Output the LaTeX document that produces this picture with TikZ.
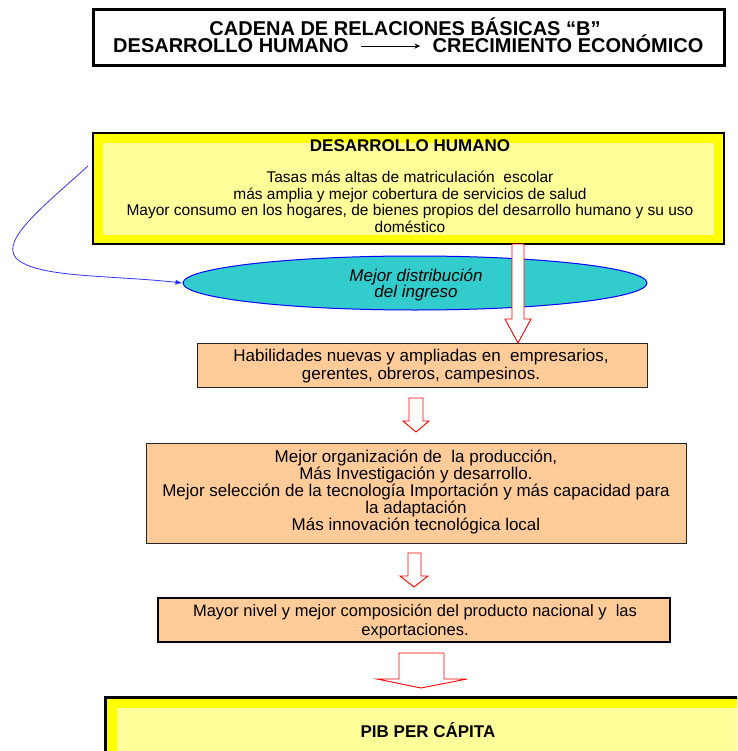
\documentclass[tikz,border=0pt]{standalone}
\usepackage{fontspec}
\setmainfont{Liberation Sans}
\usetikzlibrary{shapes.geometric,arrows.meta}
\definecolor{ltyellow}{HTML}{FFFF99}
\definecolor{bandyellow}{HTML}{FFFF00}
\definecolor{peach}{HTML}{FFCC99}
\definecolor{ellfill}{HTML}{33CCCC}
\definecolor{curveblue}{HTML}{3333FF}
\tikzset{
  peachbox/.style={draw=black!85, fill=peach, line width=1pt, inner sep=0pt},
  boxtext/.style={align=center, inner sep=0pt, font=\fontsize{17}{18.5}\selectfont},
  blockarrow/.style={draw=red, fill=white, line width=0.9pt, line join=miter},
  yellowouter/.style={draw=black, fill=bandyellow, line width=2.5pt, inner sep=0pt},
  yellowinner/.style={fill=ltyellow, inner sep=0pt},
}
\begin{document}
\begin{tikzpicture}[x=1pt,y=-1pt]
\useasboundingbox (0,0) rectangle (737,751);
\clip (0,0) rectangle (737,751);

% title
\node[draw, line width=3pt, minimum width=631pt, minimum height=56pt, inner sep=0pt] (titlebox) at (408.5,38) {};
\node[font=\bfseries\fontsize{20}{20}\selectfont, inner sep=0pt] (t1) at (405,26.5) {CADENA DE RELACIONES BÁSICAS “B”};
\node[font=\bfseries\fontsize{20}{20}\selectfont, inner sep=0pt, anchor=base] (t2a) at (231,53) {DESARROLLO HUMANO};
\node[font=\bfseries\fontsize{20}{20}\selectfont, inner sep=0pt, anchor=base] (t2b) at (568,53) {CRECIMIENTO ECONÓMICO};
\draw[-{Stealth[length=6pt,width=5pt]}, line width=1pt] ([xshift=12pt]t2a.east) -- ([xshift=-12pt]t2a.east -| t2b.west);

% desarrollo humano box
\node[yellowouter, minimum width=631pt, minimum height=111pt] (dhbox) at (408.5,188.5) {};
\node[yellowinner, minimum width=611pt, minimum height=92pt] (dhinner) at (408.5,189) {};
\node[font=\bfseries\fontsize{17}{17}\selectfont, inner sep=0pt] (dhhead) at (410,146) {DESARROLLO HUMANO};
\node[align=center, inner sep=0pt, font=\fontsize{15.5}{16.5}\selectfont] (dhbody) at (410,202)
  {Tasas más altas de matriculación~ escolar\\
   más amplia y mejor cobertura de servicios de salud\\
   Mayor consumo en los hogares, de bienes propios del desarrollo humano y su uso\\
   doméstico};

% ellipse
\node[ellipse, draw=blue, fill=ellfill, line width=1pt, minimum width=464pt, minimum height=54pt, inner sep=0pt] (ell) at (415,283) {};
\node[align=center, inner sep=0pt, font=\itshape\fontsize{17}{16}\selectfont] (elltext) at (416,285) {Mejor distribución\\del ingreso};

% blue curve
\coordinate (cstart) at (88,166);
\draw[curveblue, line width=0.8pt, -{Latex[length=7pt,width=5pt]}] (cstart) .. controls (45,205) and (0,240) .. (16,258) .. controls (35,278) and (110,275) .. (ell.west);

% boxes
\node[peachbox, minimum width=450pt, minimum height=44pt] (hab) at (422,365) {};
\node[boxtext] (habtext) at (421,366) {Habilidades nuevas y ampliadas en~ empresarios,\\gerentes, obreros, campesinos.};

\node[peachbox, minimum width=540pt, minimum height=100pt] (org) at (416,493) {};
\node[boxtext, font=\fontsize{17}{17}\selectfont] (orgtext) at (416,492) {Mejor organización de~ la producción,\\
  Más Investigación y desarrollo.\\
  Mejor selección de la tecnología Importación y más capacidad para\\
  la adaptación\\
  Más innovación tecnológica local};

\node[peachbox, draw=black, line width=2pt, minimum width=512pt, minimum height=44pt] (prod) at (414,620) {};
\node[boxtext, font=\fontsize{16.5}{19}\selectfont] (prodtext) at (415,622) {Mayor nivel y mejor composición del producto nacional y~ las\\exportaciones.};

% PIB box
\node[yellowouter, line width=3pt, minimum width=660pt, minimum height=110pt] (pib) at (435,752) {};
\node[yellowinner, minimum width=640pt, minimum height=90pt] (pibinner) at (437,753) {};
\node[font=\bfseries\fontsize{17}{17}\selectfont, inner sep=0pt] (pibtext) at (428,730) {PIB PER CÁPITA};

% block arrows
\draw[blockarrow] (512,244) -- (524,244) -- (524,319) -- (531,319) -- (518,343) -- (505,319) -- (512,319) -- cycle;
\draw[blockarrow] (409,398) -- (423,398) -- (423,421) -- (429,421) -- (416,432) -- (403,421) -- (409,421) -- cycle;
\draw[blockarrow] (408,553) -- (421,553) -- (421,576) -- (428,576) -- (414,587) -- (400,576) -- (408,576) -- cycle;
\draw[blockarrow] (399,653) -- (444,653) -- (444,679) -- (467,679) -- (421,688) -- (377,679) -- (399,679) -- cycle;
\end{tikzpicture}
\end{document}
